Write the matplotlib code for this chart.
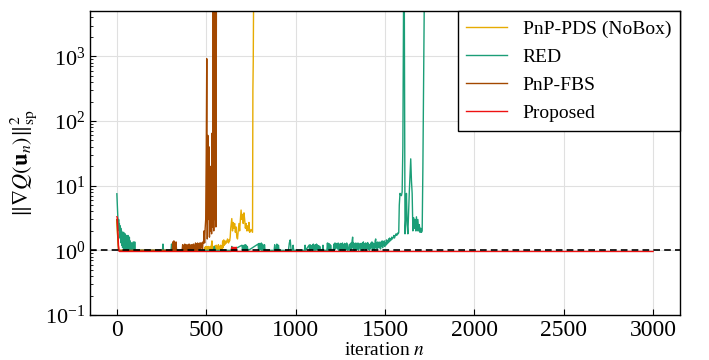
import matplotlib
matplotlib.use("Agg")
import matplotlib.pyplot as plt

plt.rcParams['font.family'] = ['Liberation Serif', 'DejaVu Serif']
plt.rcParams['mathtext.fontset'] = 'stix'

# ---------------- data ----------------
# each series is a list of segments: (first iteration, iteration spacing, values)
pds_segments = [
    (0, 5, [3.0, 1.6, 1.0]),
    (480, 10, [1.0]),
    (490, 3, [1.0, 1.12, 1.0, 1.15, 1.0, 1.12, 1.02, 1.15, 1.0, 1.12,
              1.02, 1.15, 1.0, 1.2, 1.4, 1.0, 1.15, 1.02, 1.12, 1.0,
              1.18, 1.02, 1.2, 1.0, 1.15, 1.05, 1.22, 1.0, 1.15, 1.05,
              1.2, 1.0, 1.18, 1.05, 1.4, 1.1, 1.45, 1.2, 1.35, 1.25,
              1.4, 1.3, 1.35, 1.5, 1.4, 1.3, 1.45, 1.4, 1.6, 2.2]),
    (643, 4, [3.1, 2.0, 2.7, 2.2, 2.6, 1.9, 2.3, 1.6, 1.5, 2.0,
              2.6, 2.0, 3.0, 4.2, 3.0, 3.6, 2.6, 3.8, 3.0, 2.2,
              2.6, 2.0, 2.4, 2.0, 2.7, 1.9, 2.0, 2.1]),
    (759, 2, [1.9, 300, 820, 8000]),
]

red_segments = [
    (0, 2, [7.5, 5.5, 3.9, 3.0, 2.4, 3.0, 2.0, 2.6, 1.6, 2.4,
            1.5, 2.2, 1.3, 2.0, 1.2, 1.9, 1.1, 1.8, 1.2, 1.9,
            1.05, 1.7, 1.1, 1.8, 1.0, 1.6, 1.05, 1.7, 1.0, 1.5,
            1.0, 1.7, 1.0, 1.5, 1.0, 1.6, 1.0, 1.4, 1.0, 1.3,
            1.0, 1.3, 1.0, 1.0, 1.0, 1.0, 1.35, 1.0, 1.3, 1.0,
            1.35, 1.0, 1.0, 1.0, 1.0, 1.0]),
    (255, 3, [1.0, 1.25, 1.0]),
    (303, 3, [1.0, 1.25, 1.0]),
    (540, 5, [1.0, 1.15, 1.0]),
    (640, 3, [1.0, 1.15, 1.0]),
    (700, 3, [1.2, 1.0, 1.18, 1.0, 1.2, 1.0, 1.22, 1.0, 1.2, 1.0, 1.15, 1.0, 1.0]),
    (790, 3, [1.25, 1.0, 1.28, 1.0, 1.25, 1.05, 1.3, 1.0, 1.25, 1.0,
              1.2, 1.0, 1.22, 1.0, 1.0, 1.0]),
    (880, 3, [1.0, 1.22, 1.0, 1.0, 1.0, 1.25, 1.0, 1.0, 1.2, 1.0]),
    (960, 5, [1.0, 1.3, 1.45, 1.0]),
    (983, 3, [1.0, 1.2, 1.0]),
    (1050, 3, [1.0, 1.2, 1.0]),
    (1075, 3, [1.2, 1.0, 1.22, 1.0, 1.18, 1.05, 1.2, 1.0, 1.25, 1.0,
               1.2, 1.0, 1.22, 1.0, 1.25, 1.05, 1.2, 1.0, 1.18, 1.0,
               1.15, 1.0]),
    (1150, 3, [1.0, 1.2, 1.0]),
    (1175, 3, [1.0, 1.3, 1.0, 1.28, 1.05, 1.25, 1.0, 1.2, 1.0, 1.0,
               1.0, 1.0, 1.0, 1.25, 1.0, 1.3, 1.05, 1.28, 1.1, 1.25,
               1.05, 1.3, 1.0, 1.22, 1.1, 1.28, 1.0, 1.25, 1.05, 1.3,
               1.0, 1.22, 1.1, 1.28, 1.0, 1.25, 1.05, 1.3, 1.0, 1.22,
               1.1, 1.0, 1.0, 1.25, 1.0, 1.3, 1.05, 1.4, 1.6, 1.1,
               1.3, 1.0, 1.25, 1.05, 1.3, 1.0]),
    (1343, 3, [1.25, 1.05, 1.3, 1.0, 1.2, 1.1, 1.28, 1.0, 1.25, 1.1,
               1.3, 1.0, 1.35, 1.1, 1.25, 1.05, 1.3, 1.0, 1.28, 1.1,
               1.32, 1.05, 1.25, 1.0, 1.2, 1.05, 1.3, 1.1, 1.35, 1.0,
               1.3, 1.05, 1.25, 1.0, 1.4, 1.5, 1.1, 1.3, 1.05, 1.35,
               1.1, 1.3]),
    (1469, 3, [1.1, 1.35, 1.05, 1.3, 1.15, 1.4, 1.1, 1.35, 1.2, 1.4,
               1.15, 1.3, 1.2, 1.45, 1.25, 1.4, 1.3, 1.5, 1.35, 1.55,
               1.4, 1.5, 1.45, 1.6, 1.5, 1.55, 1.6, 1.7, 1.55, 1.65,
               1.7, 1.8, 1.7, 1.75, 1.85, 1.8, 1.9]),
    (1580, 4, [5.0, 7.6, 7.2, 7.0, 8.0, 40, 8000, 8000, 1.8, 3.0,
               7.6, 2.5, 1.8, 4.0, 8.0, 14, 26, 12, 7.6, 2.0,
               3.2, 2.2, 3.0, 2.0, 3.3, 2.0, 3.0, 2.0, 2.5, 1.9,
               2.2, 1.9, 2.0, 19, 385, 8000]),
]

fbs_segments = [
    (0, 5, [3.0, 1.6, 1.0]),
    (310, 3, [1.0, 1.35, 1.0, 1.4, 1.0, 1.3, 1.0, 1.35, 1.0]),
    (362, 3, [1.0, 1.0, 1.22, 1.0, 1.2, 1.0, 1.25, 1.0, 1.2, 1.0,
              1.22, 1.0, 1.2, 1.0, 1.25, 1.0, 1.2, 1.0, 1.22, 1.0,
              1.2, 1.0, 1.25, 1.0, 1.2, 1.0, 1.3, 1.0, 1.25, 1.0,
              1.3, 1.05, 1.25, 1.0, 1.3, 1.05, 1.3, 1.1, 1.3, 1.05,
              1.35, 1.3, 2.0, 1.3, 2.2]),
    (497, 3, [3.0, 30, 920, 1.5, 60, 3.0, 40, 1.6, 20, 2.0,
              8.0, 1.8, 65, 2.3, 8000, 2.0, 8000, 3.0, 8000, 2.3,
              8000, 8000]),
]

prop_segments = [
    (0, 3, [3.3, 3.2, 2.0, 1.2, 0.97, 0.96]),
    (640, 3, [0.96, 1.12, 0.96, 1.1, 0.96, 1.12, 0.96, 1.1, 0.96, 1.12, 0.96]),
    (3000, 1, [0.96]),
]

labels = ['PnP-PDS (NoBox)', 'RED', 'PnP-FBS', 'Proposed']
colors = ['#E6AB02', '#1B9E77', '#A34800', '#EE1111']
x_ticks = [0, 500, 1000, 1500, 2000, 2500, 3000]
y_ticks = [1e-1, 1e0, 1e1, 1e2, 1e3]
threshold = 1.0


def unpack(segments):
    n, v = [], []
    for start, step, vals in segments:
        for k, val in enumerate(vals):
            n.append(start + k * step)
            v.append(val)
    return n, v


# ---------------- figure ----------------
fig = plt.figure(figsize=(7.09, 3.60), dpi=100)
ax = fig.add_axes([0.127, 0.125, 0.832, 0.844])

for segs, lab, c in zip([pds_segments, red_segments, fbs_segments, prop_segments],
                        labels, colors):
    n, v = unpack(segs)
    ax.plot(n, v, color=c, lw=1.0, label=lab, zorder=2)

ax.axhline(threshold, color='black', ls=(0, (4, 2.5)), lw=1.2, zorder=3)

ax.set_yscale('log')
ax.set_ylim(1e-1, 5000)
ax.set_xlim(-150, 3150)
ax.set_xticks(x_ticks)
ax.set_yticks(y_ticks)
ax.grid(True, which='major', color='#e0e0e0', lw=0.8, zorder=0)
ax.set_axisbelow(True)
ax.tick_params(axis='both', which='both', direction='in', top=False, right=False)
ax.tick_params(axis='x', labelsize=17)
ax.tick_params(axis='y', labelsize=16)
ax.tick_params(axis='both', which='major', length=4, width=0.8)
ax.tick_params(axis='y', which='minor', length=2.5, width=0.6)
for s in ax.spines.values():
    s.set_linewidth(1.0)

ax.set_xlabel(r'iteration $n$', fontsize=14, labelpad=1)
ax.set_ylabel(r'$\|\nabla Q(\mathbf{u}_n)\|_{\mathrm{sp}}^2$', fontsize=16, labelpad=4)

leg = ax.legend(loc='upper right', fontsize=14, fancybox=False, framealpha=1,
                edgecolor='black', borderaxespad=0, handlelength=2.1, borderpad=0.45,
                labelspacing=0.54)
leg.get_frame().set_linewidth(1.0)

fig.savefig('out.png', dpi=100)
